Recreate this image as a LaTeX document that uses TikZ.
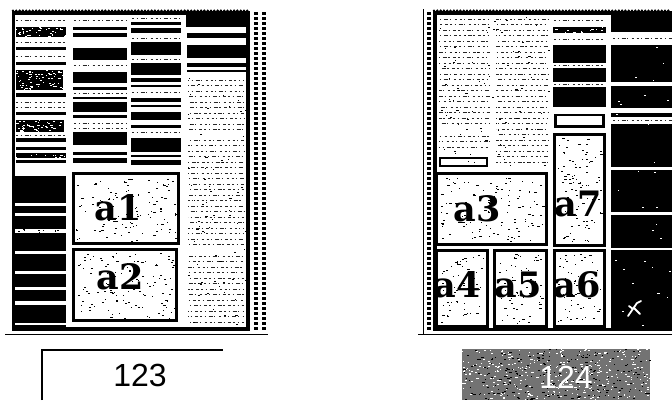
\documentclass[tikz,border=0pt]{standalone}
\usepackage{fontspec}
\newfontfamily\digfont{Liberation Sans}
\newfontfamily\boxfont{DejaVu Serif}
\newcommand\speck[6]{\foreach \ii in {1,...,#5}{\pgfmathsetmacro\sx{#1+rnd*(#3-#1)}\pgfmathsetmacro\sy{#2+rnd*(#4-#2)}\pgfmathsetmacro\sw{0.6+rnd*2}\fill[#6] (\sx,\sy) rectangle ++(\sw,1);}}
\newcommand\txtrows[5]{\foreach \yy in {#3,#4,...,#5}{\pgfmathsetmacro\ph{rnd*14}\draw[txt,dash phase=\ph pt] (#1,\yy) -- (#2,\yy);}}
\begin{document}
\begin{tikzpicture}[x=1pt,y=-1pt,
  txt/.style={black!85,line width=0.9pt,dash pattern=on 2pt off 2.5pt on 1pt off 3pt on 4pt off 1.5pt on 1.2pt off 3.5pt on 2.5pt off 2.5pt},
  boxframe/.style={draw=black,line width=3.4pt,fill=white},
  lbl/.style={font=\boxfont\bfseries\fontsize{35}{35}\selectfont,inner sep=0pt},
  numlbl/.style={font=\digfont\fontsize{32}{32}\selectfont,inner sep=0pt}]
\pgfmathsetseed{7}
\useasboundingbox (0,0) rectangle (672,400);
% ================= LEFT PANEL =================
\fill (12,11) rectangle (250,331);
\fill[white] (15,15) rectangle (246,327);
\foreach \x in {13,16.3,...,249} \fill (\x,10.6) circle (1.3);
% column 1 top
\draw[txt] (16,20) -- (66,20);
\fill (16,27) rectangle (66,37); \speck{16}{27}{66}{37}{40}{white}
\draw[txt] (16,42) -- (66,42);
\fill (16,47) rectangle (66,50);
\draw[txt] (16,56) -- (66,56);
\fill (16,62) rectangle (66,65);
\fill (16,70) rectangle (63,90); \speck{16}{70}{63}{90}{70}{white}
\fill (16,93) rectangle (66,97);
\draw[txt] (16,102) -- (66,102);
\draw[txt] (16,107) -- (66,107);
\fill (16,112) rectangle (66,115);
\fill (16,120) rectangle (64,132); \speck{16}{120}{64}{132}{45}{white}
\draw[txt] (16,135.5) -- (66,135.5);
\fill (16,138) rectangle (66,142);
\fill (16,147) rectangle (66,150);
\fill (16,153) rectangle (66,158); \speck{16}{153}{66}{158}{12}{white}
\fill (16,160) rectangle (66,163);
% column 1 bottom
\fill (15,176) rectangle (66,327);
\foreach \a/\b in {203/206,213/216,229/233,251/254,271/274,287/290,301/305,322.5/324.5}
  \fill[white] (15,\a) rectangle (66,\b);
\speck{16}{229}{66}{233}{10}{black}
% column 2 bars
\foreach \a/\b in {27/30,33/37,48/60,72/83,87/90,96.5/99,102/112,115/118,132/145,152/155,158/163}
  \fill (73,\a) rectangle (127,\b);
\foreach \yy in {20,65,93,123,128} \draw[txt] (74,\yy) -- (126,\yy);
% column 3 bars
\foreach \a/\b in {22/24.5,28/33,42/55,63/75,78/82,85/87,98/102,105/107,112/120,125/128,138/152,155/157,160/165}
  \fill (131,\a) rectangle (181,\b);
\foreach \yy in {18,38,59,92,132} \draw[txt] (132,\yy) -- (180,\yy);
% column 4
\fill (186,13) rectangle (246,27);
\foreach \a/\b in {33/38,45/58,63/67,69.5/72}
  \fill (187,\a) rectangle (246,\b);
\txtrows{188}{244}{80}{85.5}{130}
\txtrows{188}{244}{140}{145.5}{245}
\txtrows{188}{244}{256}{261.5}{322}
\speck{187}{76}{245}{325}{70}{black}
% boxes a1, a2
\draw[boxframe] (73.7,173.7) rectangle (178.3,243.3);
\speck{76}{176}{176}{241}{120}{black}
\node[lbl] (a1) at (118,208) {a1};
\draw[boxframe] (73.7,249.7) rectangle (176.3,320.3);
\speck{76}{252}{174}{318}{120}{black}
\node[lbl] (a2) at (120,277) {a2};
% dotted strip
\foreach \yy in {12,17,...,328} {\fill (254,\yy) rectangle ++(3.6,3.2); \fill (262,\yy) rectangle ++(3.6,3.2);}
\draw[line width=1.2pt] (5,334.5) -- (268,334.5);
% ================= RIGHT PANEL =================
\fill (433,11) rectangle (672,331);
\foreach \x in {434,437.3,...,671} \fill (\x,10.6) circle (1.3);
\draw[line width=0.9pt] (423,9) -- (423,334);
\foreach \yy in {12,17,...,330} \fill (427,\yy) rectangle ++(3.6,3.2);
\fill[white] (437,15) rectangle (611,328);
% text columns
\txtrows{439}{490}{19}{24.5}{124}
\txtrows{439}{490}{136}{141.5}{150}
\txtrows{496}{548}{19}{24.5}{167}
\speck{438}{16}{548}{168}{90}{black}
\draw[line width=2.2pt] (440,158) rectangle (487,166);
% column 3
\draw[txt] (554,20) -- (605,20);
\fill (553,27) rectangle (606,33); \speck{553}{27}{606}{33}{15}{white}
\draw[txt] (554,39) -- (605,39);
\foreach \a/\b in {45/63,68/82,87/107} \fill (553,\a) rectangle (606,\b);
\draw[txt] (554,65.5) -- (605,65.5);
\draw[txt] (554,84.5) -- (605,84.5);
\draw[line width=2.5pt] (555.3,114.8) rectangle (603.7,126.7);
% column 4 white bands
\fill[white] (611,32) rectangle (672,45);
\draw[txt] (613,38.5) -- (672,38.5);
\fill[white] (611,82) rectangle (672,85.5);
\fill[white] (611,108) rectangle (672,113);
\fill[white] (611,117) rectangle (672,124);
\draw[txt] (613,120.5) -- (672,120.5);
\fill[white] (611,167) rectangle (672,170);
\fill[white] (611,212) rectangle (672,214.5);
\fill[white] (606,247.5) rectangle (672,250);
\speck{612}{46}{671}{327}{30}{white}
% boxes a3..a7
\draw[boxframe] (436.7,173.7) rectangle (546.3,244.3);
\speck{440}{177}{543}{241}{120}{black}
\node[lbl] (a3) at (477,209) {a3};
\draw[boxframe] (554.7,134.7) rectangle (604.3,245.3);
\speck{557}{138}{601}{242}{90}{black}
\node[lbl] (a7) at (578,204) {a7};
\draw[boxframe] (436.7,250.7) rectangle (487.3,326.3);
\speck{440}{254}{484}{323}{60}{black}
\node[lbl] (a4) at (457,285) {a4};
\draw[boxframe] (494.7,250.7) rectangle (546.3,326.3);
\speck{498}{254}{543}{323}{60}{black}
\node[lbl] (a5) at (518,285) {a5};
\draw[boxframe] (554.7,250.7) rectangle (604.3,326.3);
\speck{558}{254}{601}{323}{60}{black}
\node[lbl] (a6) at (577,285) {a6};
% small figure in black area
\draw[white,line width=1.8pt,line cap=round] (628,316) -- (637,303) -- (641,301)
  (634,308) -- (640,314) (633,309) -- (629,306);
\draw[line width=1.2pt] (418,334.5) -- (672,334.5);
% ================= CAPTIONS =================
\draw[line width=1.4pt] (42,400) -- (42,350) -- (223,350);
\node[numlbl] (n123) at (140,375) {123};
\fill[black!55] (462,349) rectangle (650,400);
\speck{462}{349}{649}{399}{350}{white}
\speck{462}{349}{649}{399}{250}{black}
\node[numlbl,text=white] (n124) at (566,377) {124};
\end{tikzpicture}
\end{document}
